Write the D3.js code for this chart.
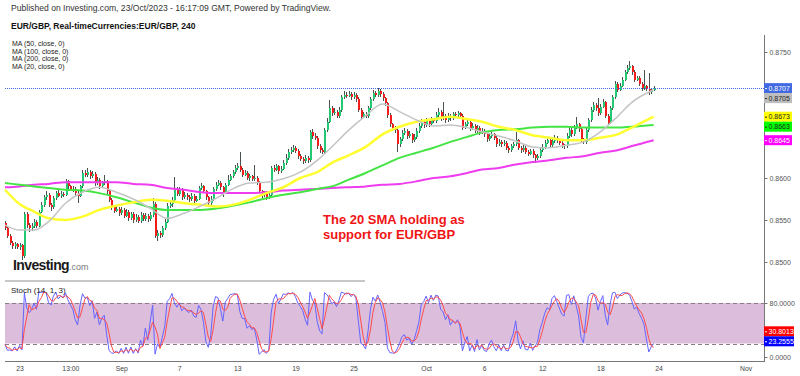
<!DOCTYPE html>
<html>
<head>
<meta charset="utf-8">
<script src="https://cdn.jsdelivr.net/npm/d3@7"></script>
<style>
  html, body { margin: 0; padding: 0; background: #fff; }
  svg { display: block; font-family: "Liberation Sans", Arial, sans-serif; }
</style>
</head>
<body>
<svg id="chart" width="800" height="376"></svg>
<script>
// EUR/GBP 4h candles, 22 Aug - 23 Oct 2023
var firstOpen = 0.8546;
var close = [
  0.8540,0.8531,0.8523,0.8519,0.8521,0.8518,0.8520,0.8507,0.8557,0.8544,
  0.8540,0.8543,0.8548,0.8543,0.8560,0.8568,0.8577,0.8580,0.8568,0.8565,
  0.8576,0.8582,0.8579,0.8581,0.8580,0.8596,0.8590,0.8586,0.8587,0.8582,
  0.8579,0.8590,0.8606,0.8604,0.8607,0.8602,0.8605,0.8594,0.8598,0.8590,
  0.8594,0.8596,0.8584,0.8574,0.8565,0.8561,0.8563,0.8558,0.8562,0.8555,
  0.8560,0.8552,0.8557,0.8550,0.8554,0.8549,0.8556,0.8551,0.8555,0.8551,
  0.8556,0.8569,0.8531,0.8535,0.8532,0.8540,0.8548,0.8567,0.8569,0.8574,
  0.8586,0.8581,0.8586,0.8577,0.8580,0.8577,0.8575,0.8579,0.8573,0.8575,
  0.8588,0.8590,0.8584,0.8577,0.8570,0.8575,0.8587,0.8592,0.8594,0.8589,
  0.8583,0.8592,0.8598,0.8602,0.8607,0.8612,0.8614,0.8610,0.8604,0.8606,
  0.8600,0.8602,0.8599,0.8600,0.8594,0.8584,0.8580,0.8582,0.8577,0.8580,
  0.8612,0.8610,0.8614,0.8608,0.8611,0.8618,0.8624,0.8631,0.8633,0.8636,
  0.8632,0.8626,0.8623,0.8620,0.8624,0.8621,0.8655,0.8650,0.8648,0.8638,
  0.8633,0.8631,0.8657,0.8667,0.8683,0.8677,0.8679,0.8674,0.8681,0.8696,
  0.8699,0.8698,0.8700,0.8696,0.8699,0.8694,0.8681,0.8673,0.8676,0.8674,
  0.8683,0.8694,0.8701,0.8699,0.8704,0.8700,0.8695,0.8689,0.8675,0.8664,
  0.8659,0.8657,0.8640,0.8646,0.8654,0.8656,0.8650,0.8652,0.8645,0.8649,
  0.8656,0.8662,0.8667,0.8663,0.8668,0.8664,0.8670,0.8668,0.8675,0.8679,
  0.8671,0.8674,0.8669,0.8674,0.8671,0.8676,0.8675,0.8677,0.8674,0.8660,
  0.8664,0.8667,0.8659,0.8662,0.8656,0.8660,0.8654,0.8656,0.8652,0.8646,
  0.8650,0.8652,0.8648,0.8640,0.8643,0.8640,0.8642,0.8636,0.8633,0.8638,
  0.8640,0.8645,0.8636,0.8633,0.8636,0.8631,0.8629,0.8632,0.8627,0.8624,
  0.8626,0.8633,0.8637,0.8642,0.8645,0.8639,0.8644,0.8648,0.8645,0.8642,
  0.8639,0.8638,0.8650,0.8657,0.8652,0.8660,0.8664,0.8658,0.8646,0.8643,
  0.8657,0.8669,0.8681,0.8687,0.8683,0.8677,0.8685,0.8690,0.8674,0.8666,
  0.8683,0.8696,0.8712,0.8705,0.8710,0.8717,0.8726,0.8731,0.8733,0.8726,
  0.8717,0.8719,0.8712,0.8707,0.8709,0.8706,0.8702,0.8705,0.8707
];
var high = [
  0.8549,0.8542,0.8533,0.8525,0.8524,0.8523,0.8523,0.8522,0.8560,0.8559,
  0.8546,0.8546,0.8551,0.8550,0.8562,0.8571,0.8580,0.8584,0.8582,0.8570,
  0.8578,0.8585,0.8586,0.8584,0.8583,0.8599,0.8598,0.8592,0.8590,0.8589,
  0.8585,0.8592,0.8609,0.8610,0.8612,0.8609,0.8608,0.8607,0.8601,0.8600,
  0.8597,0.8603,0.8598,0.8586,0.8576,0.8567,0.8566,0.8565,0.8565,0.8564,
  0.8563,0.8562,0.8560,0.8559,0.8557,0.8556,0.8559,0.8558,0.8558,0.8557,
  0.8559,0.8576,0.8571,0.8538,0.8537,0.8543,0.8551,0.8570,0.8573,0.8577,
  0.8601,0.8589,0.8589,0.8588,0.8583,0.8582,0.8580,0.8582,0.8581,0.8578,
  0.8591,0.8594,0.8592,0.8586,0.8579,0.8578,0.8589,0.8595,0.8598,0.8596,
  0.8591,0.8594,0.8603,0.8605,0.8610,0.8615,0.8618,0.8631,0.8612,0.8609,
  0.8608,0.8605,0.8604,0.8615,0.8602,0.8596,0.8586,0.8585,0.8584,0.8583,
  0.8614,0.8616,0.8617,0.8616,0.8614,0.8621,0.8628,0.8634,0.8637,0.8639,
  0.8638,0.8634,0.8628,0.8625,0.8627,0.8626,0.8657,0.8658,0.8653,0.8650,
  0.8640,0.8636,0.8659,0.8671,0.8693,0.8686,0.8683,0.8681,0.8684,0.8699,
  0.8703,0.8702,0.8704,0.8702,0.8702,0.8701,0.8696,0.8683,0.8679,0.8678,
  0.8686,0.8697,0.8705,0.8704,0.8707,0.8706,0.8702,0.8697,0.8691,0.8677,
  0.8666,0.8662,0.8659,0.8649,0.8657,0.8660,0.8658,0.8656,0.8654,0.8652,
  0.8659,0.8665,0.8670,0.8669,0.8672,0.8670,0.8673,0.8672,0.8678,0.8683,
  0.8681,0.8690,0.8676,0.8677,0.8676,0.8679,0.8679,0.8680,0.8679,0.8676,
  0.8667,0.8670,0.8669,0.8665,0.8664,0.8663,0.8662,0.8659,0.8658,0.8654,
  0.8653,0.8655,0.8654,0.8650,0.8646,0.8645,0.8645,0.8644,0.8638,0.8641,
  0.8643,0.8655,0.8647,0.8638,0.8639,0.8638,0.8633,0.8635,0.8634,0.8629,
  0.8629,0.8636,0.8640,0.8645,0.8648,0.8647,0.8647,0.8651,0.8650,0.8647,
  0.8644,0.8641,0.8653,0.8660,0.8659,0.8663,0.8673,0.8666,0.8660,0.8648,
  0.8659,0.8672,0.8684,0.8690,0.8689,0.8695,0.8688,0.8694,0.8692,0.8676,
  0.8686,0.8699,0.8715,0.8714,0.8713,0.8720,0.8729,0.8735,0.8739,0.8735,
  0.8728,0.8722,0.8721,0.8714,0.8728,0.8711,0.8725,0.8707,0.8709
];
var low = [
  0.8538,0.8529,0.8520,0.8516,0.8516,0.8515,0.8514,0.8502,0.8505,0.8541,
  0.8536,0.8537,0.8541,0.8540,0.8542,0.8558,0.8566,0.8574,0.8565,0.8561,
  0.8563,0.8574,0.8577,0.8576,0.8577,0.8578,0.8587,0.8584,0.8583,0.8579,
  0.8570,0.8577,0.8588,0.8601,0.8601,0.8599,0.8600,0.8591,0.8592,0.8587,
  0.8588,0.8592,0.8581,0.8571,0.8562,0.8558,0.8559,0.8555,0.8556,0.8552,
  0.8553,0.8549,0.8550,0.8547,0.8548,0.8546,0.8547,0.8549,0.8549,0.8548,
  0.8549,0.8554,0.8529,0.8525,0.8529,0.8530,0.8538,0.8546,0.8564,0.8566,
  0.8572,0.8578,0.8579,0.8574,0.8575,0.8574,0.8572,0.8573,0.8570,0.8571,
  0.8574,0.8586,0.8582,0.8574,0.8566,0.8568,0.8573,0.8585,0.8590,0.8586,
  0.8577,0.8581,0.8590,0.8596,0.8600,0.8605,0.8609,0.8607,0.8601,0.8602,
  0.8598,0.8597,0.8596,0.8597,0.8592,0.8582,0.8576,0.8577,0.8574,0.8575,
  0.8578,0.8607,0.8608,0.8605,0.8606,0.8609,0.8616,0.8622,0.8629,0.8631,
  0.8630,0.8623,0.8620,0.8617,0.8618,0.8618,0.8619,0.8647,0.8645,0.8635,
  0.8630,0.8628,0.8629,0.8655,0.8665,0.8674,0.8675,0.8671,0.8672,0.8679,
  0.8694,0.8695,0.8696,0.8693,0.8694,0.8691,0.8678,0.8670,0.8671,0.8671,
  0.8672,0.8681,0.8692,0.8696,0.8697,0.8697,0.8692,0.8686,0.8672,0.8661,
  0.8656,0.8654,0.8631,0.8637,0.8644,0.8651,0.8647,0.8648,0.8642,0.8643,
  0.8647,0.8654,0.8660,0.8660,0.8661,0.8661,0.8662,0.8665,0.8666,0.8673,
  0.8668,0.8669,0.8666,0.8667,0.8668,0.8669,0.8672,0.8673,0.8671,0.8657,
  0.8658,0.8662,0.8656,0.8657,0.8653,0.8654,0.8651,0.8652,0.8649,0.8643,
  0.8644,0.8648,0.8645,0.8637,0.8638,0.8637,0.8638,0.8633,0.8630,0.8631,
  0.8636,0.8638,0.8633,0.8630,0.8631,0.8628,0.8626,0.8627,0.8624,0.8618,
  0.8621,0.8624,0.8631,0.8635,0.8640,0.8636,0.8637,0.8642,0.8642,0.8639,
  0.8636,0.8635,0.8636,0.8648,0.8649,0.8650,0.8658,0.8655,0.8643,0.8640,
  0.8641,0.8655,0.8667,0.8679,0.8680,0.8674,0.8675,0.8683,0.8671,0.8663,
  0.8664,0.8681,0.8694,0.8702,0.8703,0.8708,0.8715,0.8724,0.8729,0.8723,
  0.8714,0.8715,0.8709,0.8704,0.8705,0.8703,0.8699,0.8700,0.8703
];

// moving averages, sampled at these bar indices
var maIdx = [0,6,12,18,25,32,39,46,53,60,67,74,81,88,94,101,108,115,122,129,
             135,142,149,156,163,170,177,184,191,197,204,211,218,225,232,239,246,253,259,268];
var ma20 = [0.8544,0.8538,0.8538,0.8548,0.8570,0.8583,0.8589,0.8583,0.8575,0.8564,
            0.8552,0.8558,0.8567,0.8577,0.8587,0.8594,0.8595,0.8599,0.8607,0.8621,
            0.8637,0.8657,0.8674,0.8688,0.8679,0.8669,0.8662,0.8663,0.8660,0.8655,
            0.8650,0.8644,0.8637,0.8636,0.8639,0.8643,0.8655,0.8673,0.8690,0.8705];
var ma50 = [0.8586,0.8569,0.8560,0.8552,0.8550,0.8554,0.8562,0.8567,0.8571,0.8574,
            0.8573,0.8570,0.8568,0.8566,0.8568,0.8574,0.8582,0.8589,0.8600,0.8607,
            0.8618,0.8627,0.8637,0.8652,0.8661,0.8667,0.8670,0.8673,0.8670,0.8667,
            0.8661,0.8657,0.8651,0.8648,0.8645,0.8645,0.8648,0.8652,0.8660,0.8673];
var ma100 = [0.8594,0.8592,0.8590,0.8588,0.8586,0.8585,0.8582,0.8577,0.8571,0.8565,
             0.8562,0.8562,0.8562,0.8564,0.8567,0.8571,0.8576,0.8580,0.8583,0.8587,
             0.8590,0.8598,0.8606,0.8615,0.8624,0.8630,0.8636,0.8643,0.8649,0.8654,
             0.8657,0.8658,0.8660,0.8661,0.8661,0.8660,0.8660,0.8660,0.8661,0.8663];
var ma200 = [0.8589,0.8590,0.8592,0.8593,0.8595,0.8595,0.8595,0.8595,0.8593,0.8592,
             0.8588,0.8586,0.8583,0.8582,0.8582,0.8582,0.8583,0.8585,0.8586,0.8587,
             0.8588,0.8589,0.8590,0.8592,0.8593,0.8596,0.8600,0.8602,0.8606,0.8610,
             0.8612,0.8616,0.8619,0.8621,0.8624,0.8626,0.8630,0.8633,0.8638,0.8645];

// last stochastic values as printed on the scale
var stochLastK = 23.2555, stochLastD = 30.8013;

// date ticks (bar index -> label)
var dateTicks = [6, 27, 48, 72, 96, 120, 144, 174, 198, 222, 246, 270, 306];
var dateLabels = ["23", "13:00", "Sep", "7", "13", "19", "25", "Oct", "6", "12", "18", "24", "Nov"];
var priceTicks = [0.8500, 0.8550, 0.8600, 0.8650, 0.8700, 0.8750];
var stochTicks = [0, 80];

var svg = d3.select("#chart");
var fmt4 = d3.format(".4f");

var left = 5, right = 764;
var x = d3.scaleLinear().domain([0, 313.6]).range([left, right]);
var y = d3.scaleLinear().domain([0.8500, 0.8750]).range([262, 52]);
var ys = d3.scaleLinear().domain([0, 80]).range([357, 303]);

// candles: each 4h bar opens at the previous close
var bars = close.map(function(c, i) {
  return { i: i, o: i === 0 ? firstOpen : close[i - 1], h: high[i], l: low[i], c: c };
});

// ---------- header ----------
svg.append("text").attr("x", 11).attr("y", 11)
  .style("font-size", "8.6px").style("fill", "#333")
  .text("Published on Investing.com, 23/Oct/2023 - 16:17:09 GMT, Powered by TradingView.");
svg.append("text").attr("x", 11).attr("y", 29)
  .style("font-size", "8.5px").style("font-weight", "bold").style("fill", "#111")
  .text("EUR/GBP, Real-timeCurrencies:EUR/GBP, 240");
["MA (50, close, 0)", "MA (100, close, 0)", "MA (200, close, 0)", "MA (20, close, 0)"]
  .forEach(function(t, k) {
    svg.append("text").attr("x", 12).attr("y", 46 + k * 7.5)
      .style("font-size", "7px").style("fill", "#222").text(t);
  });

// ---------- stochastic band ----------
svg.append("rect")
  .attr("x", left).attr("width", right - left)
  .attr("y", ys(80)).attr("height", ys(20) - ys(80))
  .style("fill", "#dcbedc");
[80, 20].forEach(function(v) {
  svg.append("line")
    .attr("x1", left).attr("x2", right)
    .attr("y1", Math.round(ys(v)) + 0.5).attr("y2", Math.round(ys(v)) + 0.5)
    .style("stroke", "#8a7a8a").style("stroke-dasharray", "4,3");
});

// ---------- candles ----------
var gc = svg.append("g").attr("shape-rendering", "crispEdges");
gc.selectAll("line.wick").data(bars).enter().append("line")
  .attr("class", "wick")
  .attr("x1", function(d) { return Math.round(x(d.i)) + 0.5; })
  .attr("x2", function(d) { return Math.round(x(d.i)) + 0.5; })
  .attr("y1", function(d) { return y(d.h); })
  .attr("y2", function(d) { return y(d.l); })
  .style("stroke", "#4a524c").style("stroke-width", 1);
gc.selectAll("rect.body").data(bars).enter().append("rect")
  .attr("class", "body")
  .attr("x", function(d) { return Math.round(x(d.i)); })
  .attr("width", 2)
  .attr("y", function(d) { return y(Math.max(d.o, d.c)); })
  .attr("height", function(d) { return Math.max(1, Math.abs(y(d.o) - y(d.c))); })
  .style("fill", function(d) { return d.c >= d.o ? "#22c872" : "#f21c1c"; });

// ---------- moving averages ----------
var maLine = d3.line()
  .x(function(d) { return x(d[0]); })
  .y(function(d) { return y(d[1]); })
  .curve(d3.curveMonotoneX);
var maSeries = [
  { v: ma200, color: "#ee3cee", w: 2 },
  { v: ma100, color: "#44e444", w: 2 },
  { v: ma50, color: "#ffff30", w: 2.5 },
  { v: ma20, color: "#c4c4c4", w: 1.5 }
];
maSeries.forEach(function(s) {
  svg.append("path")
    .datum(maIdx.map(function(b, k) { return [b, s.v[k]]; }))
    .attr("d", maLine)
    .style("fill", "none").style("stroke", s.color).style("stroke-width", s.w);
});

// last price line
var lastClose = close[close.length - 1];
svg.append("line")
  .attr("x1", left).attr("x2", right)
  .attr("y1", Math.round(y(lastClose)) + 0.5).attr("y2", Math.round(y(lastClose)) + 0.5)
  .style("stroke", "#4169e1").style("stroke-dasharray", "1,1");

// ---------- stochastic (14, 1, 3) ----------
var stochK = close.map(function(c, i) {
  var from = Math.max(0, i - 13);
  var hh = d3.max(high.slice(from, i + 1)), ll = d3.min(low.slice(from, i + 1));
  return (c - ll) / (hh - ll) * 100;
});
var stochD = stochK.map(function(k, i) {
  return d3.mean(stochK.slice(Math.max(0, i - 2), i + 1));
});
var stLine = d3.line()
  .x(function(d, i) { return x(i); })
  .y(function(d) { return ys(d); });
svg.append("path").datum(stochK).attr("d", stLine)
  .style("fill", "none").style("stroke", "#6464ff").style("stroke-width", 1);
svg.append("path").datum(stochD).attr("d", stLine)
  .style("fill", "none").style("stroke", "#ff4a4a").style("stroke-width", 1);

svg.append("text").attr("x", 11).attr("y", 293)
  .style("font-size", "8px").style("fill", "#222").text("Stoch (14, 1, 3)");

// ---------- annotation + logo ----------
svg.append("text").attr("x", 323).attr("y", 223.5)
  .style("font-size", "13px").style("font-weight", "bold").style("fill", "#f01414")
  .text("The 20 SMA holding as");
svg.append("text").attr("x", 323).attr("y", 239)
  .style("font-size", "13px").style("font-weight", "bold").style("fill", "#f01414")
  .text("support for EUR/GBP");

var logo = svg.append("text").attr("x", 13).attr("y", 270);
logo.append("tspan").style("font-size", "14px").style("font-weight", "bold")
  .style("fill", "#1a1a1a").style("letter-spacing", "-0.6px").text("Investing");
logo.append("tspan").style("font-size", "9px").style("fill", "#777").text(".com");
svg.append("line").attr("x1", left).attr("x2", 365).attr("y1", 281).attr("y2", 281)
  .style("stroke", "#b4b4b4").style("stroke-width", 1.5);

// ---------- axes ----------
svg.append("line").attr("x1", right + 0.5).attr("x2", right + 0.5).attr("y1", 35).attr("y2", 361)
  .style("stroke", "#777");
svg.append("line").attr("x1", left).attr("x2", right + 1).attr("y1", 361.5).attr("y2", 361.5)
  .style("stroke", "#777");

var gy = svg.append("g").attr("transform", "translate(" + (right + 0.5) + ",0)")
  .call(d3.axisRight(y).tickValues(priceTicks).tickFormat(fmt4).tickSize(3).tickPadding(2));
var gys = svg.append("g").attr("transform", "translate(" + (right + 0.5) + ",0)")
  .call(d3.axisRight(ys).tickValues(stochTicks).tickFormat(fmt4).tickSize(3).tickPadding(2));
[gy, gys].forEach(function(g) {
  g.select(".domain").remove();
  g.selectAll("line").style("stroke", "#777");
  g.selectAll("text").style("font-size", "7px").style("fill", "#555")
    .style("font-family", "'Liberation Sans', Arial, sans-serif");
});

var gx = svg.append("g").attr("transform", "translate(0,361)")
  .call(d3.axisBottom(x).tickValues(dateTicks)
    .tickFormat(function(d, k) { return dateLabels[k]; }).tickSize(0).tickPadding(5));
gx.select(".domain").remove();
gx.selectAll("text").style("font-size", "6.8px").style("fill", "#444")
  .style("font-family", "'Liberation Sans', Arial, sans-serif");

// ---------- value labels on the scale ----------
function drawLabels(items, pushDown, axisG, scale) {
  var sorted = items.slice().sort(function(a, b) { return a.y - b.y; });
  if (pushDown) {
    for (var k = 1; k < sorted.length; k++) sorted[k].y = Math.max(sorted[k].y, sorted[k - 1].y + 10);
  } else {
    for (var k = sorted.length - 2; k >= 0; k--) sorted[k].y = Math.min(sorted[k].y, sorted[k + 1].y - 10);
  }
  // tick labels hidden under a value label are dropped
  axisG.selectAll(".tick").filter(function(t) {
    return sorted.some(function(d) { return Math.abs(scale(t) - d.y) < 9; });
  }).select("text").remove();
  sorted.forEach(function(d) {
    var g = svg.append("g").attr("transform", "translate(" + right + "," + d.y + ")");
    g.append("rect").attr("x", 0).attr("y", -5).attr("width", d.w).attr("height", 10)
      .style("fill", d.bg);
    g.append("line").attr("x1", 1).attr("x2", 3).attr("y1", 0.5).attr("y2", 0.5)
      .style("stroke", d.fg);
    g.append("text").attr("x", 4.5).attr("y", 2.6)
      .style("font-size", "7px").style("fill", d.fg)
      .text(d.text);
  });
}
drawLabels([
  { y: y(lastClose), text: fmt4(lastClose), bg: "#4169e1", fg: "#fff", w: 28 },
  { y: y(ma20[ma20.length - 1]), text: fmt4(ma20[ma20.length - 1]), bg: "#bdbdbd", fg: "#222", w: 28 },
  { y: y(ma50[ma50.length - 1]), text: fmt4(ma50[ma50.length - 1]), bg: "#ffff00", fg: "#222", w: 28 },
  { y: y(ma100[ma100.length - 1]), text: fmt4(ma100[ma100.length - 1]), bg: "#00ff00", fg: "#222", w: 28 },
  { y: y(ma200[ma200.length - 1]), text: fmt4(ma200[ma200.length - 1]), bg: "#ff00ff", fg: "#fff", w: 28 }
], true, gy, y);
drawLabels([
  { y: ys(stochLastD), text: fmt4(stochLastD), bg: "#ff0000", fg: "#fff", w: 30 },
  { y: ys(stochLastK), text: fmt4(stochLastK), bg: "#0000ff", fg: "#fff", w: 30 }
], false, gys, ys);
</script>
</body>
</html>
